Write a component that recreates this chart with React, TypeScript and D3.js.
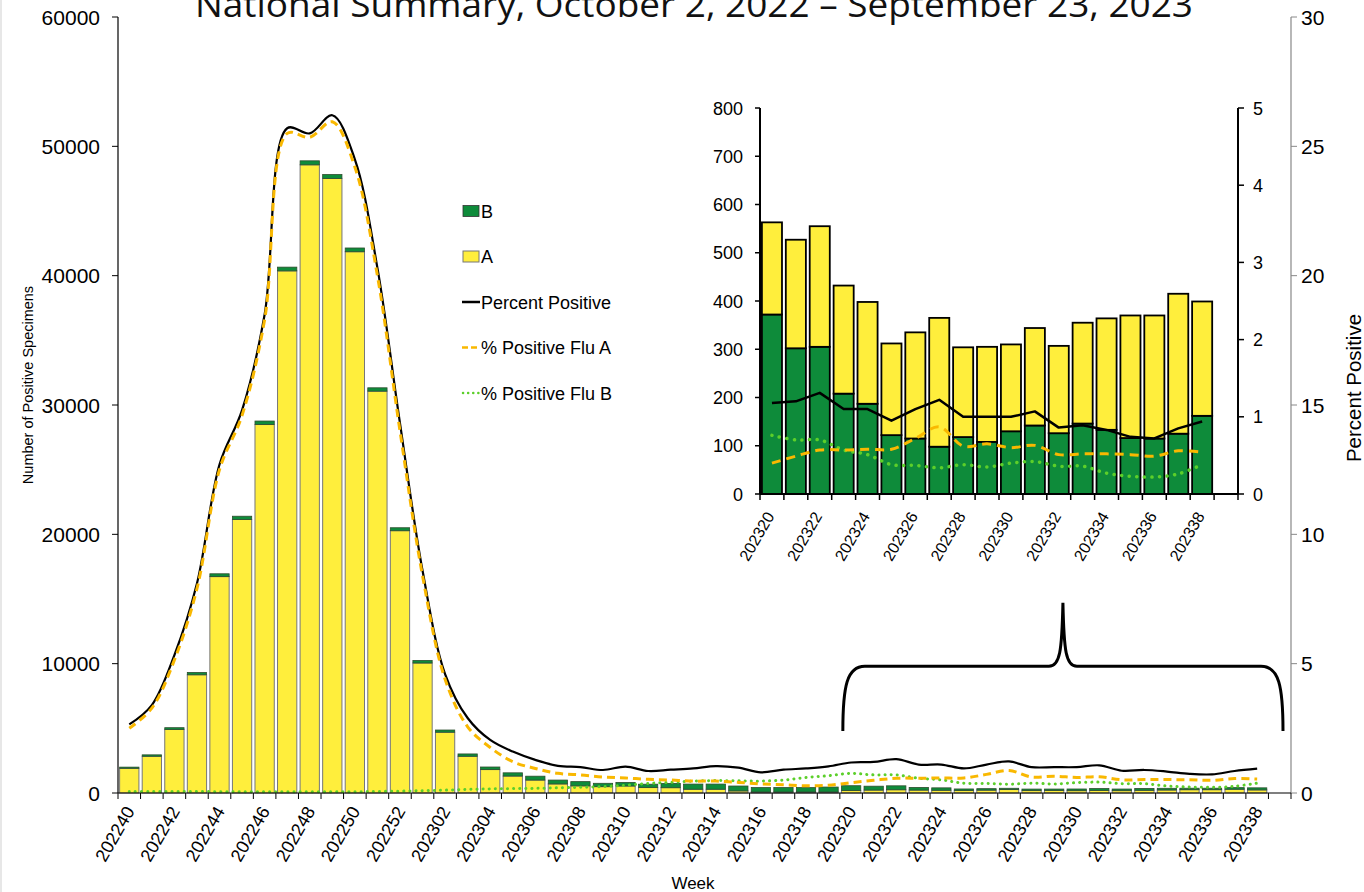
import * as d3 from "d3";

// categories (the last week has no data yet)
const WEEKS = [
  "202240", "202241", "202242", "202243", "202244", "202245", "202246", "202247", "202248", "202249",
  "202250", "202251", "202252", "202301", "202302", "202303", "202304", "202305", "202306", "202307",
  "202308", "202309", "202310", "202311", "202312", "202313", "202314", "202315", "202316", "202317",
  "202318", "202319", "202320", "202321", "202322", "202323", "202324", "202325", "202326", "202327",
  "202328", "202329", "202330", "202331", "202332", "202333", "202334", "202335", "202336", "202337",
  "202338", "202339",
];

// positive specimens
const FLU_A = [
  1910, 2840, 4910, 9140, 16730, 21150, 28490, 40370, 48570, 47520,
  41850, 31070, 20280, 10050, 4700, 2840, 1810, 1310, 1000, 700,
  550, 490, 540, 420, 410, 290, 290, 160, 80, 80,
  80, 80, 191, 225, 250, 224, 211, 190, 220, 267,
  186, 197, 180, 202, 181, 209, 231, 254, 255, 290,
  237,
];
const FLU_B = [
  90, 110, 140, 180, 220, 250, 270, 290, 310, 300,
  290, 260, 230, 200, 170, 180, 200, 250, 300, 300,
  330, 260, 280, 260, 330, 400, 400, 380, 340, 340,
  340, 380, 372, 302, 305, 208, 187, 122, 115, 98,
  118, 108, 130, 142, 126, 146, 133, 116, 115, 125,
  162,
];

// percent positive
const PCT_ALL = [
  2.65, 3.4, 5.33, 8.1, 12.7, 14.8, 18.5, 25.7, 25.5, 26.2,
  24.5, 20.3, 14.3, 8.6, 4.6, 2.9, 2.05, 1.6, 1.28, 1.05,
  1.0, 0.89, 1.02, 0.85, 0.9, 0.95, 1.04, 0.98, 0.8, 0.9,
  0.95, 1.03, 1.18, 1.2, 1.31, 1.1, 1.1, 0.95, 1.1, 1.22,
  1.0, 1.0, 1.0, 1.07, 0.86, 0.89, 0.83, 0.74, 0.72, 0.85,
  0.94,
];
const PCT_A = [
  2.5, 3.28, 5.14, 7.9, 12.5, 14.6, 18.3, 25.5, 25.35, 25.95,
  24.2, 20.0, 14.0, 8.4, 4.4, 2.56, 1.76, 1.21, 0.95, 0.76,
  0.7, 0.62, 0.58, 0.53, 0.5, 0.46, 0.46, 0.41, 0.35, 0.32,
  0.28, 0.3, 0.4, 0.49, 0.57, 0.57, 0.58, 0.58, 0.72, 0.87,
  0.62, 0.65, 0.6, 0.63, 0.51, 0.52, 0.52, 0.51, 0.49, 0.56,
  0.54,
];
const PCT_B = [
  0.06, 0.06, 0.06, 0.06, 0.05, 0.05, 0.05, 0.05, 0.05, 0.05,
  0.05, 0.06, 0.07, 0.09, 0.11, 0.14, 0.16, 0.17, 0.18, 0.2,
  0.22, 0.25, 0.3, 0.37, 0.41, 0.46, 0.48, 0.47, 0.46, 0.5,
  0.6, 0.67, 0.76, 0.7, 0.7, 0.57, 0.51, 0.38, 0.37, 0.34,
  0.38, 0.35, 0.4, 0.42, 0.36, 0.36, 0.27, 0.23, 0.22, 0.26,
  0.38,
];

const INSET_START = "202320";

const TITLE = "National Summary, October 2, 2022 \u2013 September 23, 2023";
const FONT = "'Liberation Sans', Arial, sans-serif";

const YELLOW = "#FFEE3C";
const GREEN = "#0E8B3A";
const ORANGE = "#F9B800";
const LIGHT_GREEN = "#5CCF2A";

const W = 1364;
const H = 892;

export default function App() {
  // main chart
  const x = d3.scaleBand<string>().domain(WEEKS).range([118, 1291]).paddingInner(0.145).paddingOuter(0.0725);
  const yN = d3.scaleLinear().domain([0, 60000]).range([793, 17]);
  const yP = d3.scaleLinear().domain([0, 30]).range([793, 17]);
  const step = x.step();
  const x0 = x.range()[0];
  const cx = (i: number) => (x(WEEKS[i]) as number) + x.bandwidth() / 2;

  const mainLine = (vals: number[]) =>
    d3.line<number>().x((_, i) => cx(i)).y((d) => yP(d)).curve(d3.curveCatmullRom.alpha(0.5))(vals) || "";

  // inset
  const s = WEEKS.indexOf(INSET_START);
  const iWeeks = WEEKS.slice(s);
  const iA = FLU_A.slice(s);
  const iB = FLU_B.slice(s);
  const xi = d3.scaleBand<string>().domain(iWeeks).range([760, 1238]).paddingInner(0.16).paddingOuter(0.08);
  const yiN = d3.scaleLinear().domain([0, 800]).range([494, 108]);
  const yiP = d3.scaleLinear().domain([0, 5]).range([494, 108]);
  const cxi = (i: number) => (xi(iWeeks[i]) as number) + xi.bandwidth() / 2;
  const insetLine = (vals: number[], curve: d3.CurveFactory) =>
    d3.line<number>().x((_, i) => cxi(i)).y((d) => yiP(d)).curve(curve)(vals) || "";

  // bracket pointing to the inset
  const bl = x0 + s * step + 3;
  const br = x.range()[1] - 8;
  const bm = (bl + br) / 2;
  const yb = yP(2.4), yh = yP(4.9), yt = yP(7.35);
  const bracket =
    `M${bl},${yb} C${bl},${yh + 20} ${bl + 4},${yh} ${bl + 22},${yh} L${bm - 14},${yh} ` +
    `C${bm - 3},${yh} ${bm - 1},${yh - 15} ${bm},${yt} C${bm + 1},${yh - 15} ${bm + 3},${yh} ${bm + 14},${yh} ` +
    `L${br - 22},${yh} C${br - 4},${yh} ${br},${yh + 20} ${br},${yb}`;

  const legend = [
    { label: "B", kind: "rectB" },
    { label: "A", kind: "rectA" },
    { label: "Percent Positive", kind: "black" },
    { label: "% Positive Flu A", kind: "orange" },
    { label: "% Positive Flu B", kind: "green" },
  ];

  return (
    <svg
      width={W}
      height={H}
      style={{ position: "absolute", left: 0, top: 0, background: "#fff", fontFamily: FONT }}
    >
      <line x1={1} x2={1} y1={0} y2={H} stroke="#cfcfcf" />

      <text x={694} y={17} textAnchor="middle" fontSize={34} textLength={998} lengthAdjust="spacingAndGlyphs"
        fill="#111" fontFamily="'Liberation Sans Narrow', 'Open Sans', sans-serif">
        {TITLE}
      </text>

      {/* main bars: A at the bottom, B on top */}
      {FLU_A.map((a, i) => {
        const b = FLU_B[i];
        const bx = x(WEEKS[i]) as number;
        const bw = x.bandwidth();
        return (
          <g key={WEEKS[i]}>
            <rect x={bx} y={yN(a)} width={bw} height={yN(0) - yN(a)} fill={YELLOW} stroke="#777" strokeWidth={1} />
            <rect x={bx} y={yN(a + b)} width={bw} height={yN(a) - yN(a + b)} fill={GREEN} stroke="#2d4d2d" strokeWidth={0.8} />
          </g>
        );
      })}

      {/* main lines */}
      <path d={mainLine(PCT_B)} fill="none" stroke={LIGHT_GREEN} strokeWidth={3} strokeDasharray="0.1 6" strokeLinecap="round" />
      <path d={mainLine(PCT_ALL)} fill="none" stroke="#000" strokeWidth={2.2} />
      <path d={mainLine(PCT_A)} fill="none" stroke={ORANGE} strokeWidth={3} strokeDasharray="8 5" />

      {/* left axis */}
      <line x1={x0} x2={x0} y1={yN(60000)} y2={yN(0)} stroke="#000" strokeWidth={1.2} />
      {yN.ticks(6).map((t) => (
        <g key={t}>
          <line x1={x0 - 6} x2={x0} y1={yN(t)} y2={yN(t)} stroke="#000" />
          <text x={x0 - 18} y={yN(t) + 7.5} textAnchor="end" fontSize={21} fill="#000">{t}</text>
        </g>
      ))}
      <text transform={`translate(33,${(yN(0) + yN(60000)) / 2 - 20}) rotate(-90)`} textAnchor="middle" fontSize={14.5} fill="#000">
        Number of Positive Specimens
      </text>

      {/* right axis */}
      <line x1={1291} x2={1291} y1={yP(30)} y2={yP(0)} stroke="#888" strokeWidth={1.2} />
      {yP.ticks(6).map((t) => (
        <g key={t}>
          <line x1={1291} x2={1297} y1={yP(t)} y2={yP(t)} stroke="#888" />
          <text x={1301} y={yP(t) + 7.5} fontSize={21} fill="#000">{t}</text>
        </g>
      ))}
      <text transform={`translate(1361,${388}) rotate(-90)`} textAnchor="middle" fontSize={20.5} fill="#000">
        Percent Positive
      </text>

      {/* bottom axis */}
      <line x1={x0} x2={x.range()[1]} y1={yN(0)} y2={yN(0)} stroke="#000" strokeWidth={1.2} />
      {d3.range(WEEKS.length + 1).map((i) => (
        <line key={i} x1={x0 + i * step} x2={x0 + i * step} y1={yN(0)} y2={yN(0) + 6} stroke="#000" />
      ))}
      {WEEKS.map((w, i) =>
        i % 2 === 0 && i < FLU_A.length ? (
          <text key={w} transform={`translate(${cx(i) + 6},${811}) rotate(-60)`} textAnchor="end" fontSize={18} fill="#000">
            {w}
          </text>
        ) : null
      )}
      <text x={693} y={889} textAnchor="middle" fontSize={17} fill="#000">Week</text>

      {/* legend */}
      {legend.map((d, i) => {
        const ly = 211 + i * 45.5;
        return (
          <g key={d.label}>
            {d.kind === "rectB" && <rect x={463} y={ly - 5.5} width={16} height={11} fill={GREEN} stroke="#333" strokeWidth={0.8} />}
            {d.kind === "rectA" && <rect x={463} y={ly - 5.5} width={16} height={11} fill={YELLOW} stroke="#777" strokeWidth={1} />}
            {d.kind === "black" && <line x1={462} x2={480} y1={ly} y2={ly} stroke="#000" strokeWidth={2.5} />}
            {d.kind === "orange" && <line x1={462} x2={480} y1={ly} y2={ly} stroke={ORANGE} strokeWidth={2.5} strokeDasharray="6 3" />}
            {d.kind === "green" && <line x1={463} x2={480} y1={ly} y2={ly} stroke={LIGHT_GREEN} strokeWidth={2.5} strokeDasharray="0.1 5" strokeLinecap="round" />}
            <text x={481} y={ly + 6.5} fontSize={18} fill="#000">{d.label}</text>
          </g>
        );
      })}

      <path d={bracket} fill="none" stroke="#000" strokeWidth={3} />

      {/* inset chart: B at the bottom, A on top */}
      {iA.map((a, i) => {
        const b = iB[i];
        const bx = xi(iWeeks[i]) as number;
        const bw = xi.bandwidth();
        return (
          <g key={iWeeks[i]}>
            <rect x={bx} y={yiN(b)} width={bw} height={yiN(0) - yiN(b)} fill={GREEN} stroke="#000" strokeWidth={1.8} />
            <rect x={bx} y={yiN(a + b)} width={bw} height={yiN(b) - yiN(a + b)} fill={YELLOW} stroke="#000" strokeWidth={1.8} />
          </g>
        );
      })}
      <path d={insetLine(PCT_B.slice(s), d3.curveCatmullRom.alpha(0.5))} fill="none" stroke={LIGHT_GREEN} strokeWidth={3.5} strokeDasharray="0.1 7.5" strokeLinecap="round" />
      <path d={insetLine(PCT_A.slice(s), d3.curveCatmullRom.alpha(0.5))} fill="none" stroke={ORANGE} strokeWidth={3} strokeDasharray="9 6" />
      <path d={insetLine(PCT_ALL.slice(s), d3.curveLinear)} fill="none" stroke="#000" strokeWidth={2.5} strokeLinejoin="round" />

      <line x1={760} x2={760} y1={yiN(800)} y2={yiN(0)} stroke="#000" strokeWidth={2} />
      {yiN.ticks(8).map((t) => (
        <g key={t}>
          <line x1={755} x2={760} y1={yiN(t)} y2={yiN(t)} stroke="#000" strokeWidth={1.5} />
          <text x={743} y={yiN(t) + 6.5} textAnchor="end" fontSize={18} fill="#000">{t}</text>
        </g>
      ))}
      <line x1={1238} x2={1238} y1={yiP(5)} y2={yiP(0)} stroke="#000" strokeWidth={2} />
      {yiP.ticks(5).map((t) => (
        <g key={t}>
          <line x1={1238} x2={1244} y1={yiP(t)} y2={yiP(t)} stroke="#000" strokeWidth={1.5} />
          <text x={1253} y={yiP(t) + 6.5} fontSize={18} fill="#000">{t}</text>
        </g>
      ))}
      <line x1={760} x2={1238} y1={yiN(0)} y2={yiN(0)} stroke="#000" strokeWidth={2} />
      {d3.range(iWeeks.length + 1).map((i) => {
        const tx = xi.range()[0] + i * xi.step();
        return <line key={i} x1={tx} x2={tx} y1={yiN(0)} y2={yiN(0) + 6} stroke="#000" strokeWidth={1.5} />;
      })}
      {iWeeks.map((w, i) =>
        i % 2 === 0 && i < iA.length ? (
          <text key={w} transform={`translate(${cxi(i) + 3},${516}) rotate(-60)`} textAnchor="end" fontSize={16} fill="#000">
            {w}
          </text>
        ) : null
      )}
    </svg>
  );
}
